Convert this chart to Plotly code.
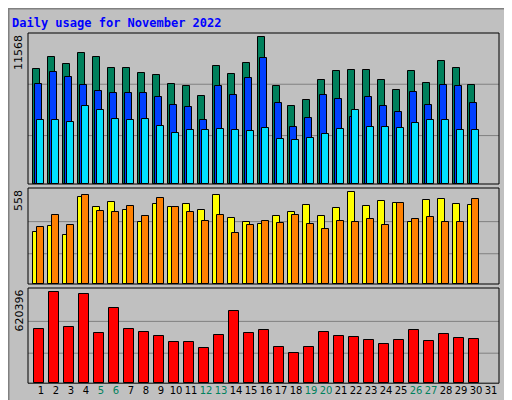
import plotly.graph_objects as go

days = list(range(1, 31))
all_days = list(range(1, 32))
weekends = [5, 6, 12, 13, 19, 20, 26, 27]

hits = [9043, 9990, 9438, 10305, 9990, 9122, 9122, 8728, 8570, 7861, 7703, 6914, 9280, 8649, 9517,
        11568, 7703, 6126, 6599, 8176, 8886, 8965, 8965, 8176, 7387, 8886, 7940, 9675, 9122, 7782]
files = [7861, 8807, 8413, 7782, 7309, 7151, 7151, 7151, 6835, 6204, 6047, 5021, 7703, 6993, 8334,
         9911, 6362, 4469, 5179, 6993, 6678, 5258, 6835, 6126, 5652, 7230, 6204, 7782, 7703, 6362]
pages = [5021, 5021, 4864, 6126, 5810, 5100, 5021, 5100, 4548, 3996, 4233, 4233, 4312, 4233, 4154,
         4390, 3523, 3444, 3602, 3917, 4312, 5810, 4469, 4469, 4390, 4785, 5021, 5021, 4233, 4233]
visits = [314, 351, 296, 528, 467, 497, 448, 375, 485, 467, 485, 448, 540, 400, 375,
          363, 412, 436, 479, 412, 461, 558, 473, 503, 491, 375, 509, 515, 485, 479]
sites = [345, 418, 357, 540, 442, 436, 473, 412, 521, 467, 436, 381, 418, 308, 357,
         381, 369, 418, 363, 333, 381, 375, 394, 357, 491, 394, 406, 375, 375, 515]
kbytes = [368145, 620396, 381780, 606758, 340875, 511313, 368145, 347693, 320423, 279518,
          279518, 238613, 327240, 490860, 340875, 361328, 245430, 204525, 245430, 347693,
          320423, 313605, 293153, 265883, 293153, 361328, 286335, 334058, 306788, 299970]

BG = "#c0c0c0"
GREEN = "#00805c"
line = dict(color="black", width=1)

fig = go.Figure()

def bar(y, color, off, w, axis):
    fig.add_trace(go.Bar(x=days, y=y, marker=dict(color=color, line=line), offset=off, width=w,
                         xaxis="x", yaxis=axis, showlegend=False, hoverinfo="skip"))

bar(hits, GREEN, -0.513, 0.467, "y")
bar(files, "#0040ff", -0.38, 0.467, "y")
bar(pages, "#00e0ff", -0.247, 0.467, "y")
bar(visits, "#ffff00", -0.513, 0.467, "y2")
bar(sites, "#ff8000", -0.247, 0.467, "y2")
bar(kbytes, "#ff0000", -0.447, 0.667, "y3")

ymax = [max(hits) * 151 / 146.7, max(visits) * 96 / 91.7, max(kbytes) * 95.3 / 91]
axes = ["y", "y2", "y3"]
tops = [max(hits), max(visits), max(kbytes)]
shapes = []
for ax, top in zip(axes, tops):
    for f in (0.33, 0.68):
        shapes.append(dict(type="line", xref="x", yref=ax, x0=0.133, x1=31.53, y0=top * f, y1=top * f,
                           line=dict(color="#808080", width=1), layer="below"))
# panel frames
for y0, y1 in [(0.56, 0.9375), (0.31, 0.55), (0.062, 0.3)]:
    shapes.append(dict(type="rect", xref="paper", yref="paper", x0=0, x1=1, y0=y0, y1=y1,
                       line=dict(color="black", width=1)))
# outer 3D border
shapes += [
    dict(type="rect", xref="paper", yref="paper", x0=-20 / 471, x1=1 + 21 / 471, y0=0, y1=1,
         line=dict(color="#808080", width=3)),
]

def ticklabel(d):
    c = GREEN if d in weekends else "black"
    return f"<span style='color:{c}'>{d}</span>"

ann = []
for text, y in [("11568", 0.9375), ("558", 0.55), ("620396", 0.3)]:
    ann.append(dict(text=text, x=-0.002, y=y, xref="paper", yref="paper", xanchor="right", yanchor="top",
                    textangle=-90, showarrow=False, font=dict(size=11, color="black")))
sep = "<span style='color:#505050'> / </span>"
ann.append(dict(text="<span style='color:#00c8e8'>Pages</span>" + sep + "<span style='color:#0040ff'>Files</span>"
                + sep + f"<span style='color:{GREEN}'>Hits</span>",
                x=1.005, y=0.9375, xref="paper", yref="paper", xanchor="left", yanchor="top",
                textangle=-90, showarrow=False))
ann.append(dict(text="<span style='color:#ff8000'>Sites</span>" + sep + "<span style='color:#ffff00'>Visits</span>",
                x=1.005, y=0.55, xref="paper", yref="paper", xanchor="left", yanchor="top",
                textangle=-90, showarrow=False))
ann.append(dict(text="<span style='color:#ff0000'>KBytes</span>",
                x=1.005, y=0.062, xref="paper", yref="paper", xanchor="left", yanchor="bottom",
                textangle=-90, showarrow=False))
ann.append(dict(text="<b>Daily usage for November 2022</b>", x=-18 / 471, y=1 - 6 / 400, xref="paper",
                yref="paper", xanchor="left", yanchor="top", showarrow=False,
                font=dict(color="#0000ff", size=12, family="DejaVu Sans Mono")))

fig.update_layout(
    width=512, height=400, margin=dict(l=20, r=21, t=0, b=0),
    paper_bgcolor=BG, plot_bgcolor=BG, barmode="overlay", bargap=0,
    font=dict(family="DejaVu Sans", size=11, color="black"),
    xaxis=dict(range=[0.133, 31.53], tickvals=all_days, ticktext=[ticklabel(d) for d in all_days],
               showgrid=False, zeroline=False, ticks="", anchor="y3", tickangle=0,
               tickfont=dict(size=10, family="DejaVu Sans")),
    yaxis=dict(domain=[0.56, 0.9375], range=[0, ymax[0]], visible=False),
    yaxis2=dict(domain=[0.31, 0.55], range=[0, ymax[1]], visible=False),
    yaxis3=dict(domain=[0.062, 0.3], range=[0, ymax[2]], visible=False),
    shapes=shapes, annotations=ann,
)
fig.write_html("out.html")
